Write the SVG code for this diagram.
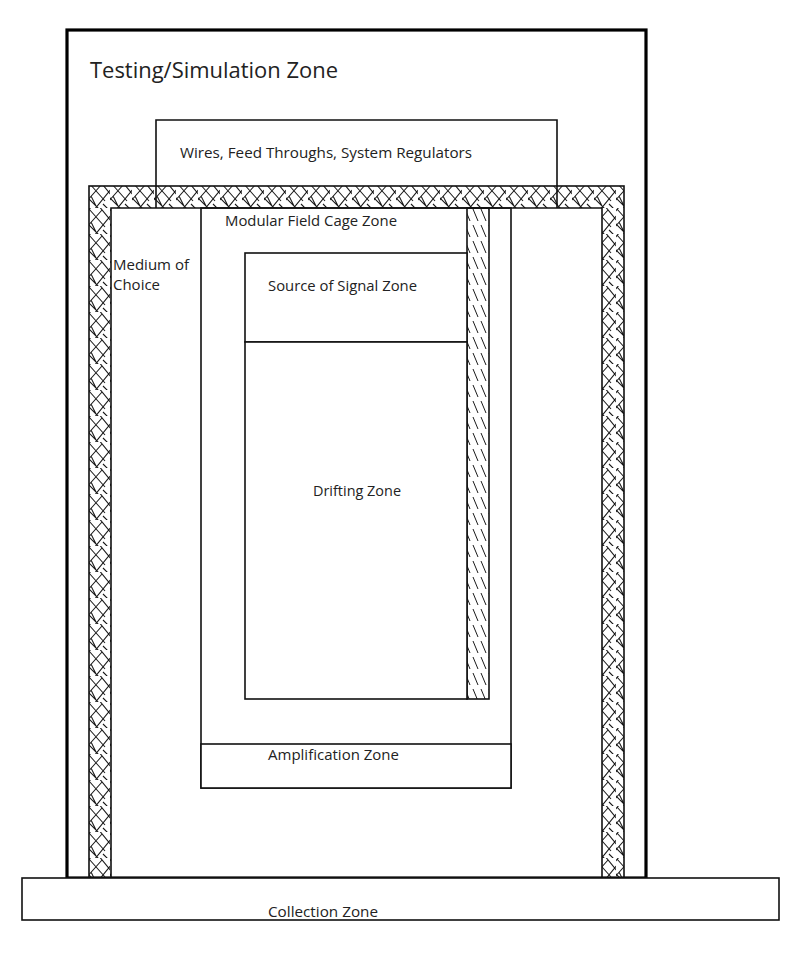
<svg xmlns="http://www.w3.org/2000/svg" width="797" height="954" viewBox="0 0 797 954">
<defs>
<style>
.box{fill:none;stroke:#111;stroke-width:1.6}
.wbox{fill:#fff;stroke:#111;stroke-width:1.6}
.thick{fill:#fff;stroke:#000;stroke-width:3.2}
.lbl{font-family:"Open Sans","Liberation Sans",sans-serif;fill:#222}
</style>
<pattern id="xh" width="22" height="26" patternUnits="userSpaceOnUse">
<path d="M-2,20 L14,2 M6,28 L24,6 M-3,6 L4,-2 M1,1 L17,19 M10,-3 L24,14 M-4,12 L12,28 M15,22 L22,29 M3,14 L8,24" stroke="#1a1a1a" stroke-width="1.1" fill="none"/>
</pattern>
<pattern id="dh" width="8" height="16" patternUnits="userSpaceOnUse">
<path d="M1,1 L6,13" stroke="#1a1a1a" stroke-width="1" fill="none"/>
</pattern>
</defs>
<rect width="797" height="954" fill="#fff"/>

<g id="testing-zone">
<rect x="67" y="30" width="579" height="848" class="thick"/>
<text class="lbl" x="90" y="78" font-size="21" textLength="248" lengthAdjust="spacingAndGlyphs">Testing/Simulation Zone</text>
</g>

<g id="medium-of-choice">
<path d="M89,186 H624 V878 H89 Z M111,208 V878 H602 V208 Z" fill="url(#xh)" fill-rule="evenodd"/>
<rect x="89" y="186" width="535" height="692" class="box"/>
<path d="M111,878 V208 H602 V878" class="box"/>
<text class="lbl" x="113" y="270" font-size="14" textLength="76" lengthAdjust="spacingAndGlyphs">Medium of</text>
<text class="lbl" x="113" y="290" font-size="14" textLength="47" lengthAdjust="spacingAndGlyphs">Choice</text>
</g>

<g id="wires">
<path d="M156,208 V120 H557 V208" class="box"/>
<text class="lbl" x="180" y="158" font-size="15" textLength="292" lengthAdjust="spacingAndGlyphs">Wires, Feed Throughs, System Regulators</text>
</g>

<g id="field-cage">
<rect x="201" y="208" width="310" height="580" class="box"/>
<rect x="467" y="208" width="22" height="491" fill="url(#dh)"/>
<rect x="467" y="208" width="22" height="491" class="box"/>
<text class="lbl" x="225" y="226" font-size="14" textLength="172" lengthAdjust="spacingAndGlyphs">Modular Field Cage Zone</text>
</g>

<g id="source-of-signal">
<rect x="245" y="253" width="222" height="89" class="wbox"/>
<text class="lbl" x="268" y="291" font-size="14" textLength="149" lengthAdjust="spacingAndGlyphs">Source of Signal Zone</text>
</g>

<g id="drifting">
<rect x="245" y="342" width="222" height="357" class="wbox"/>
<text class="lbl" x="313" y="496" font-size="14" textLength="88" lengthAdjust="spacingAndGlyphs">Drifting Zone</text>
</g>

<g id="amplification">
<rect x="201" y="744" width="310" height="44" class="wbox"/>
<text class="lbl" x="268" y="760" font-size="14" textLength="131" lengthAdjust="spacingAndGlyphs">Amplification Zone</text>
</g>

<g id="collection">
<rect x="22" y="878" width="757" height="42" class="wbox"/>
<text class="lbl" x="268" y="917" font-size="14" textLength="110" lengthAdjust="spacingAndGlyphs">Collection Zone</text>
</g>

<g id="connectors"/>
</svg>
